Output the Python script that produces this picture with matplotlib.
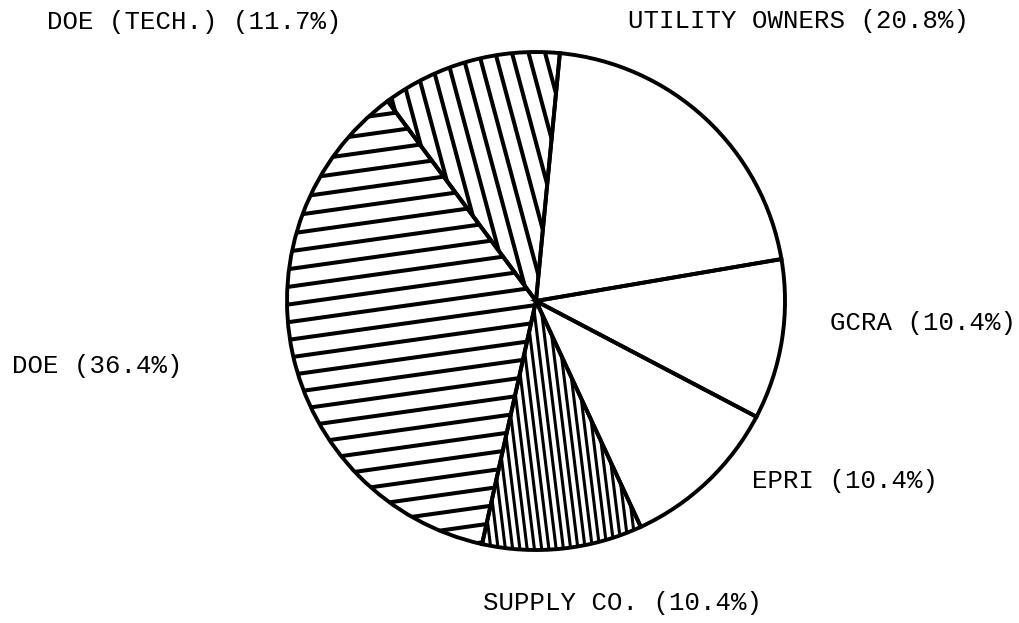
import numpy as np
import matplotlib.pyplot as plt

labels = ['UTILITY OWNERS (20.8%)', 'GCRA (10.4%)', 'EPRI (10.4%)',
          'SUPPLY CO. (10.4%)', 'DOE (36.4%)', 'DOE (TECH.) (11.7%)']
shares = [20.8, 10.4, 10.4, 10.4, 36.4, 11.7]

# hatch per slice: (line angle in deg, spacing px, width pt) or None
hatching = [None, None, None, (97, 7.2, 2.2), (8, 17.5, 2.9), (105, 16, 2.9)]

# label placement (left x, baseline y) in pixels from the top-left
label_pos = [(628, 28), (830, 330), (752, 488), (483, 610), (12, 373), (47, 29)]

W, H = 1020, 623
fig = plt.figure(figsize=(W / 100, H / 100), dpi=100)
ax = fig.add_axes([0, 0, 1, 1])

cx, cy, R = 536, H - 301, 249
wedges, _ = ax.pie(shares, startangle=84.5, counterclock=False,
                   center=(cx, cy), radius=R, frame=True,
                   wedgeprops=dict(facecolor='none', edgecolor='black',
                                   linewidth=2.8, zorder=3))

for w, h in zip(wedges, hatching):
    if h is None:
        continue
    ang, step, lw = h
    t = np.radians(ang)
    u = np.array([np.cos(t), np.sin(t)])
    n = np.array([-np.sin(t), np.cos(t)])
    for d in np.arange(-R, R + step, step):
        p0 = np.array([cx, cy]) + d * n - R * 1.2 * u
        p1 = np.array([cx, cy]) + d * n + R * 1.2 * u
        ln, = ax.plot([p0[0], p1[0]], [p0[1], p1[1]], color='black',
                      lw=lw, solid_capstyle='butt', zorder=2)
        ln.set_clip_path(w)

for lab, (x, y) in zip(labels, label_pos):
    ax.text(x, H - y, lab, ha='left', va='baseline', fontsize=18.5,
            family=['Liberation Mono', 'DejaVu Sans Mono'], color='black')

ax.set_xlim(0, W)
ax.set_ylim(0, H)
ax.set_aspect('auto')
ax.axis('off')
fig.savefig('out.png', dpi=100, facecolor='white')
